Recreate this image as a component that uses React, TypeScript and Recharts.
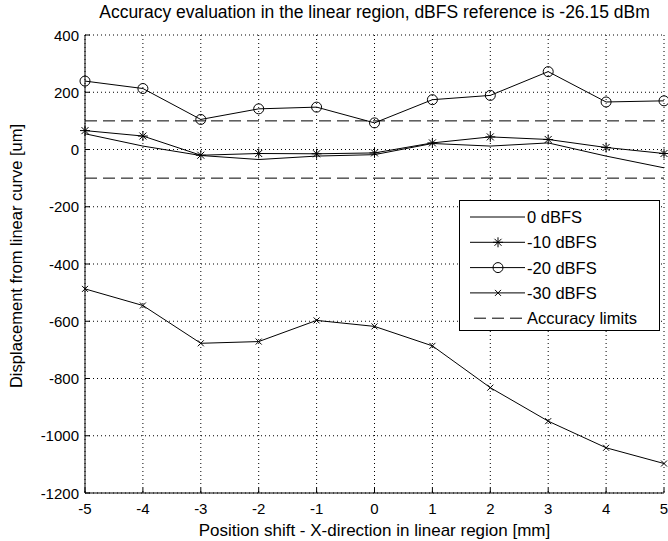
import React from 'react';
import {
  LineChart,
  Line,
  XAxis,
  YAxis,
  CartesianGrid,
  ReferenceLine,
  Legend,
  Label
} from 'recharts';

// position shift along X, in mm
const positions = [-5, -4, -3, -2, -1, 0, 1, 2, 3, 4, 5];

// displacement from the linear curve, in um, one list per input level
const dbfs0 = [55, 12, -21, -35, -23, -18, 21, 12, 23, -23, -64];
const dbfs10 = [66, 47, -20, -14, -15, -12, 23, 44, 35, 7, -14];
const dbfs20 = [239, 213, 105, 142, 148, 93, 174, 189, 272, 166, 170];
const dbfs30 = [-487, -545, -677, -671, -597, -618, -686, -832, -949, -1042, -1097];

const accuracyLimits = [100, -100];

const xTicks = [-5, -4, -3, -2, -1, 0, 1, 2, 3, 4, 5];
const yTicks = [-1200, -1000, -800, -600, -400, -200, 0, 200, 400];

const data = positions.map((x, i) => ({
  x,
  d0: dbfs0[i],
  d10: dbfs10[i],
  d20: dbfs20[i],
  d30: dbfs30[i]
}));

const FONT = '"Liberation Sans", Arial, Helvetica, sans-serif';
const INK = '#000';

type Marker = 'none' | 'star' | 'circle' | 'cross';

const drawMarker = (kind: Marker, cx: number, cy: number, key?: React.Key) => {
  if (kind === 'circle') {
    return <circle key={key} cx={cx} cy={cy} r={5} fill="none" stroke={INK} strokeWidth={1} />;
  }
  if (kind === 'star') {
    return (
      <g key={key} stroke={INK} strokeWidth={1}>
        <line x1={cx - 5} y1={cy} x2={cx + 5} y2={cy} />
        <line x1={cx} y1={cy - 5} x2={cx} y2={cy + 5} />
        <line x1={cx - 3.5} y1={cy - 3.5} x2={cx + 3.5} y2={cy + 3.5} />
        <line x1={cx - 3.5} y1={cy + 3.5} x2={cx + 3.5} y2={cy - 3.5} />
      </g>
    );
  }
  if (kind === 'cross') {
    return (
      <g key={key} stroke={INK} strokeWidth={1}>
        <line x1={cx - 3} y1={cy - 3} x2={cx + 3} y2={cy + 3} />
        <line x1={cx - 3} y1={cy + 3} x2={cx + 3} y2={cy - 3} />
      </g>
    );
  }
  return <g key={key} />;
};

const dotOf = (kind: Marker) => (props: any) =>
  drawMarker(kind, props.cx, props.cy, `${kind}-${props.index}`);

const legendItems: { name: string; marker: Marker; dashed?: boolean }[] = [
  { name: '0 dBFS', marker: 'none' },
  { name: '-10 dBFS', marker: 'star' },
  { name: '-20 dBFS', marker: 'circle' },
  { name: '-30 dBFS', marker: 'cross' },
  { name: 'Accuracy limits', marker: 'none', dashed: true }
];

const LegendBox = () => (
  <div
    style={{
      width: 201,
      height: 131,
      border: '1px solid #000',
      background: '#fff',
      boxSizing: 'border-box'
    }}
  >
    <svg width={200} height={130} style={{ display: 'block' }}>
      {legendItems.map((item, i) => {
        const y = 16 + i * 25.3;
        return (
          <g key={item.name}>
            <line
              x1={item.dashed ? 14 : 10}
              y1={y}
              x2={65}
              y2={y}
              stroke={INK}
              strokeWidth={1}
              strokeDasharray={item.dashed ? '12 6' : undefined}
            />
            {drawMarker(item.marker, 38, y)}
            <text
              x={67}
              y={y}
              dominantBaseline="central"
              fontSize={16.5}
              fontFamily={FONT}
              fill={INK}
            >
              {item.name}
            </text>
          </g>
        );
      })}
    </svg>
  </div>
);

// ticks point into the plot, labels sit outside
const XTick = (props: any) => {
  const { x, y, payload } = props;
  return (
    <g>
      <line x1={x} y1={y} x2={x} y2={y - 5} stroke={INK} />
      <text x={x} y={y + 15} textAnchor="middle" dominantBaseline="central" fontSize={15} fontFamily={FONT} fill={INK}>
        {payload.value}
      </text>
    </g>
  );
};

const YTick = (props: any) => {
  const { x, y, payload } = props;
  return (
    <g>
      <line x1={x} y1={y} x2={x + 5} y2={y} stroke={INK} />
      <text x={x - 6} y={y} textAnchor="end" dominantBaseline="central" fontSize={15} fontFamily={FONT} fill={INK}>
        {payload.value}
      </text>
    </g>
  );
};

export default function App() {
  return (
    <div style={{ position: 'absolute', left: 0, top: 0, width: 668, height: 541, background: '#fff' }}>
      <div
        style={{
          position: 'absolute',
          left: 85,
          top: 0,
          width: 579,
          height: 24,
          lineHeight: '24px',
          textAlign: 'center',
          fontFamily: FONT,
          fontSize: 17.5,
          color: INK,
          whiteSpace: 'nowrap',
          zIndex: 2
        }}
      >
        Accuracy evaluation in the linear region, dBFS reference is -26.15 dBm
      </div>
      <LineChart
        width={668}
        height={541}
        data={data}
        margin={{ top: 35, right: 4, bottom: 0, left: 15 }}
      >
        <CartesianGrid stroke={INK} strokeDasharray="1 3" strokeWidth={1} />
        <XAxis
          dataKey="x"
          type="number"
          domain={[-5, 5]}
          ticks={xTicks}
          height={48}
          tickSize={0}
          tickMargin={0}
          tickLine={false}
          axisLine={{ stroke: INK }}
          tick={<XTick />}
          interval={0}
        >
          <Label
            content={(p: any) => {
              const vb = p.viewBox;
              return (
                <text
                  x={vb.x + vb.width / 2}
                  y={vb.y + 37}
                  textAnchor="middle"
                  dominantBaseline="central"
                  fontSize={17}
                  fontFamily={FONT}
                  fill={INK}
                >
                  Position shift - X-direction in linear region [mm]
                </text>
              );
            }}
          />
        </XAxis>
        <YAxis
          type="number"
          domain={[-1200, 400]}
          ticks={yTicks}
          width={70}
          tickSize={0}
          tickMargin={0}
          tickLine={false}
          axisLine={{ stroke: INK }}
          tick={<YTick />}
          interval={0}
        >
          <Label
            content={(p: any) => {
              const vb = p.viewBox;
              const cx = vb.x + 1;
              const cy = vb.y + vb.height / 2 - 8;
              return (
                <text
                  x={cx}
                  y={cy}
                  transform={`rotate(-90, ${cx}, ${cy})`}
                  textAnchor="middle"
                  dominantBaseline="central"
                  fontSize={16.5}
                  fontFamily={FONT}
                  fill={INK}
                >
                  Displacement from linear curve [um]
                </text>
              );
            }}
          />
        </YAxis>
        {accuracyLimits.map((v) => (
          <ReferenceLine key={v} y={v} stroke={INK} strokeDasharray="12 6" strokeWidth={1} />
        ))}
        <Line dataKey="d0" stroke={INK} strokeWidth={1} dot={false} isAnimationActive={false} />
        <Line dataKey="d10" stroke={INK} strokeWidth={1} dot={dotOf('star')} isAnimationActive={false} />
        <Line dataKey="d20" stroke={INK} strokeWidth={1} dot={dotOf('circle')} isAnimationActive={false} />
        <Line dataKey="d30" stroke={INK} strokeWidth={1} dot={dotOf('cross')} isAnimationActive={false} />
        <Legend
          layout="horizontal"
          verticalAlign="middle"
          align="center"
          content={() => <LegendBox />}
          wrapperStyle={{ left: 459, top: 200, width: 201, height: 131 }}
        />
      </LineChart>
    </div>
  );
}
